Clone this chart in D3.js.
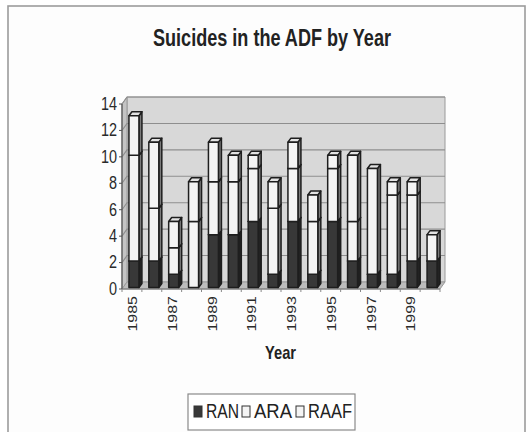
<!DOCTYPE html>
<html>
<head>
<meta charset="utf-8">
<script src="https://cdn.jsdelivr.net/npm/d3@7"></script>
<style>
    body { margin: 0; background: #fff; }
    svg { display: block; font-family: "Liberation Sans", Arial, sans-serif; }
</style>
</head>
<body>
<svg id="chart" width="527" height="432"></svg>
<script>
    // data
    const years = ["1985", "1986", "1987", "1988", "1989", "1990", "1991", "1992",
                   "1993", "1994", "1995", "1996", "1997", "1998", "1999", "2000"];
    const ran  = [2, 2, 1, 0, 4, 4, 5, 1, 5, 1, 5, 2, 1, 1, 2, 2];
    const ara  = [8, 4, 2, 5, 4, 4, 4, 5, 4, 4, 4, 3, 8, 6, 5, 2];
    const raaf = [3, 5, 2, 3, 3, 2, 1, 2, 2, 2, 1, 5, 0, 1, 1, 0];
    const seriesNames = ["RAN", "ARA", "RAAF"];
    const yTicks = [0, 2, 4, 6, 8, 10, 12, 14];

    const svg = d3.select("#chart");

    // chart frame
    svg.append("rect")
        .attr("x", 8).attr("y", 6).attr("width", 517).attr("height", 440)
        .attr("fill", "#fdfdfd").attr("stroke", "#9c9c9c").attr("stroke-width", 1.6);

    // title
    svg.append("text")
        .attr("x", 153).attr("y", 46)
        .attr("font-size", 24).attr("font-weight", "bold").attr("fill", "#222")
        .attr("textLength", 238).attr("lengthAdjust", "spacingAndGlyphs")
        .text("Suicides in the ADF by Year");

    let table = years.map((y, i) => ({year: y, RAN: ran[i], ARA: ara[i], RAAF: raaf[i]}));
    let stacked = d3.stack().keys(seriesNames)(table);

    let x0 = 122, x1 = 440;
    let x = d3.scaleBand().domain(years).range([x0, x1]).paddingInner(0).paddingOuter(0);
    let y = d3.scaleLinear().domain([0, 14]).range([289, 104]);

    // depth of the 3d box
    let dx = 5, dy = -7;

    let g = svg.append("g");

    // back wall
    g.append("polygon")
        .attr("points", [[x0 + dx, y(0) + dy], [x1 + dx, y(0) + dy], [x1 + dx, y(14) + dy], [x0 + dx, y(14) + dy]].join(" "))
        .attr("fill", "#d8d8d8").attr("stroke", "#9a9a9a").attr("stroke-width", 1);

    // side wall
    g.append("polygon")
        .attr("points", [[x0, y(0)], [x0 + dx, y(0) + dy], [x0 + dx, y(14) + dy], [x0, y(14)]].join(" "))
        .attr("fill", "#c4c4c4").attr("stroke", "#9a9a9a").attr("stroke-width", 1);

    // floor
    g.append("polygon")
        .attr("points", [[x0, y(0)], [x1, y(0)], [x1 + dx, y(0) + dy], [x0 + dx, y(0) + dy]].join(" "))
        .attr("fill", "#bdbdbd").attr("stroke", "#9a9a9a").attr("stroke-width", 1);

    // gridlines
    g.selectAll(".grid")
        .data(yTicks.filter(t => t > 0))
        .enter()
        .append("polyline")
        .attr("points", t => [[x0, y(t)], [x0 + dx, y(t) + dy], [x1 + dx, y(t) + dy]].join(" "))
        .attr("fill", "none").attr("stroke", "#8e8e8e").attr("stroke-width", 1.1);

    // y axis
    g.append("line")
        .attr("x1", x0).attr("x2", x0).attr("y1", y(0)).attr("y2", y(14))
        .attr("stroke", "#555").attr("stroke-width", 1.2);

    g.selectAll(".ytick")
        .data(yTicks)
        .enter()
        .append("line")
        .attr("x1", x0 - 3).attr("x2", x0).attr("y1", t => y(t)).attr("y2", t => y(t))
        .attr("stroke", "#555");

    g.selectAll(".ylabel")
        .data(yTicks)
        .enter()
        .append("text")
        .attr("transform", t => `translate(117,${y(t) - 1}) scale(0.76,1)`)
        .attr("text-anchor", "end").attr("dy", "0.36em")
        .attr("font-size", 19).attr("fill", "#2a2a2a")
        .text(t => t);

    // x axis ticks
    g.append("line")
        .attr("x1", x0).attr("x2", x1).attr("y1", y(0)).attr("y2", y(0))
        .attr("stroke", "#777");

    g.selectAll(".xtick")
        .data(years.concat(["end"]))
        .enter()
        .append("line")
        .attr("x1", (d, i) => x0 + i * x.step()).attr("x2", (d, i) => x0 + i * x.step())
        .attr("y1", y(0)).attr("y2", y(0) + 3)
        .attr("stroke", "#888");

    g.selectAll(".xlabel")
        .data(years.filter((d, i) => i % 2 === 0))
        .enter()
        .append("text")
        .attr("transform", d => `translate(${x(d) + x.bandwidth() / 2 + 1},296) rotate(-90) scale(1,0.76)`)
        .attr("text-anchor", "end").attr("dy", "0.35em")
        .attr("font-size", 16).attr("fill", "#2a2a2a")
        .text(d => d);

    svg.append("text")
        .attr("x", 265).attr("y", 359)
        .attr("font-size", 19).attr("font-weight", "bold").attr("fill", "#222")
        .attr("textLength", 31).attr("lengthAdjust", "spacingAndGlyphs")
        .text("Year");

    // 3d bars
    let fills = {RAN: "#383838", ARA: "#f4f4f4", RAAF: "#f4f4f4"};
    let sides = {RAN: "#222222", ARA: "#7a7a7a", RAAF: "#7a7a7a"};
    let tops = {RAN: "#555555", ARA: "#e2e2e2", RAAF: "#e2e2e2"};
    let barW = 10, bdx = 3, bdy = -4, ox = 2, oy = -1.5;

    let bars = g.append("g");
    years.forEach((yr, i) => {
        stacked.forEach(s => {
            let d = s[i];
            if (d[1] - d[0] <= 0) return;
            let left = x(yr) + (x.bandwidth() - barW) / 2 + ox;
            let right = left + barW;
            let bot = y(d[0]) + oy, top = y(d[1]) + oy;
            let seg = bars.append("g")
                .attr("stroke", "#1e1e1e").attr("stroke-width", 1.5).attr("stroke-linejoin", "round");
            seg.append("polygon")
                .attr("points", [[right, bot], [right + bdx, bot + bdy], [right + bdx, top + bdy], [right, top]].join(" "))
                .attr("fill", sides[s.key]);
            seg.append("polygon")
                .attr("points", [[left, top], [right, top], [right + bdx, top + bdy], [left + bdx, top + bdy]].join(" "))
                .attr("fill", tops[s.key]);
            seg.append("rect")
                .attr("x", left).attr("y", top).attr("width", barW).attr("height", bot - top)
                .attr("fill", fills[s.key]);
        });
    });

    // legend
    let legend = svg.append("g");
    legend.append("rect")
        .attr("x", 188).attr("y", 394).attr("width", 167).attr("height", 36)
        .attr("fill", "#fff").attr("stroke", "#8a8a8a").attr("stroke-width", 1.2);

    let legendX = [194, 242, 296];
    let legendLen = [33, 38, 44];
    seriesNames.forEach((name, i) => {
        legend.append("rect")
            .attr("x", legendX[i]).attr("y", 406).attr("width", 8).attr("height", 11)
            .attr("fill", fills[name]).attr("stroke", "#333").attr("stroke-width", 1);
        legend.append("text")
            .attr("x", legendX[i] + 12).attr("y", 418)
            .attr("font-size", 20).attr("fill", "#222")
            .attr("textLength", legendLen[i]).attr("lengthAdjust", "spacingAndGlyphs")
            .text(name);
    });
</script>
</body>
</html>
